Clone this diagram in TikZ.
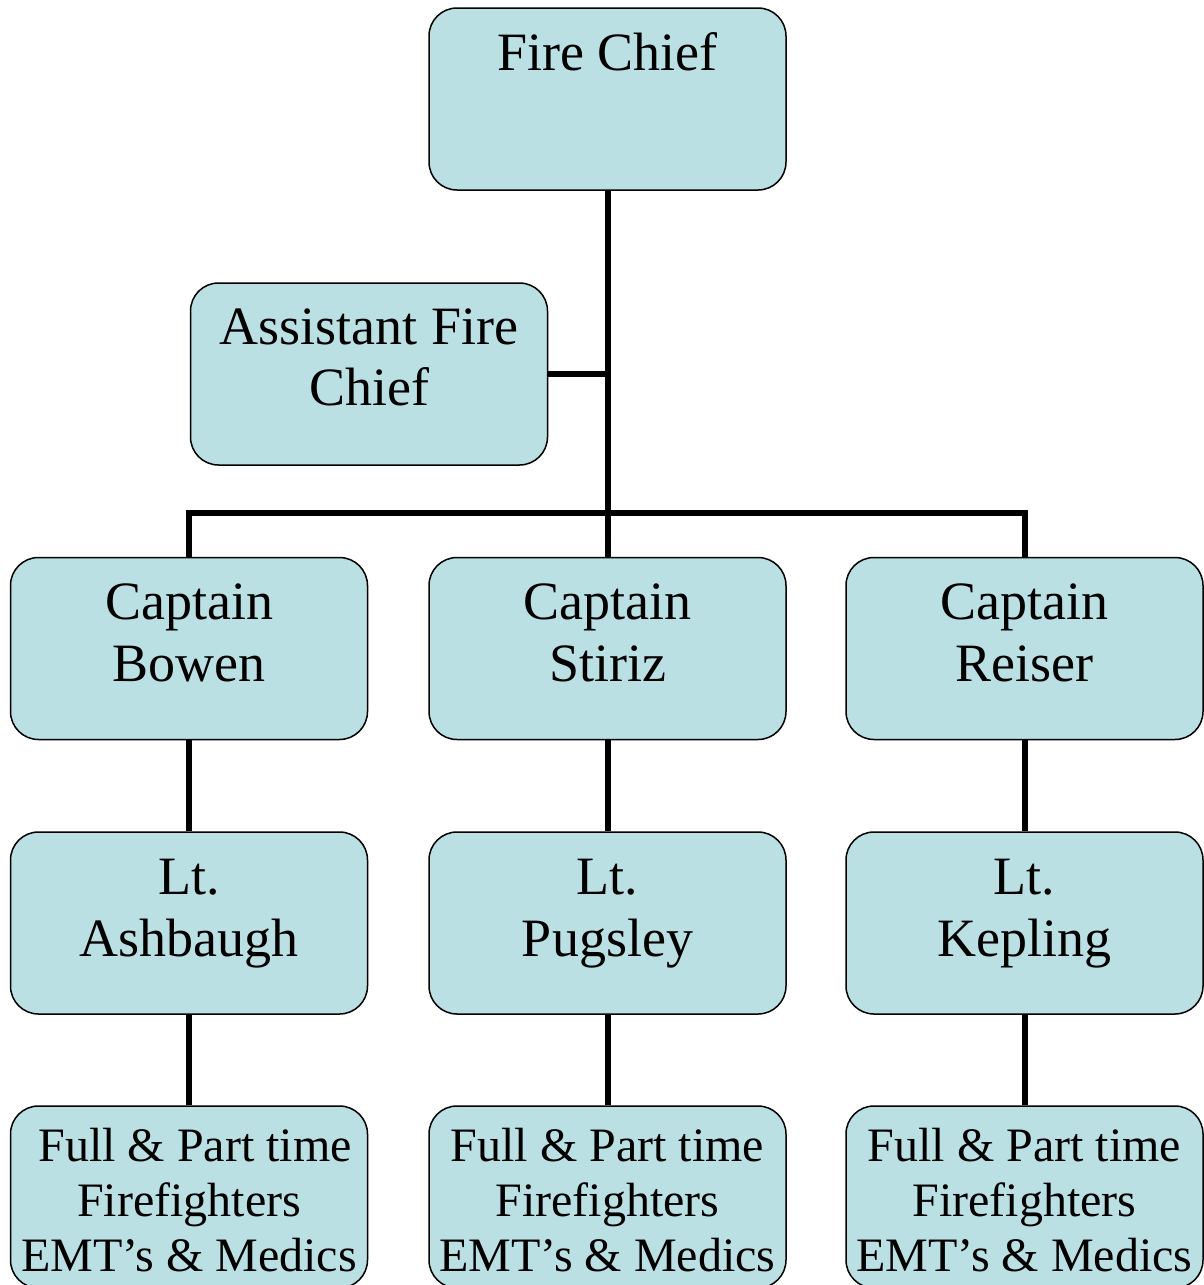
\documentclass[tikz,border=0pt]{standalone}
\usepackage{fontspec}
\setmainfont{Liberation Serif}
\definecolor{boxFill}{RGB}{186,224,227}
\newcommand{\boxText}[3]{\parbox[c][182pt][t]{357pt}{\centering\fontsize{#1}{#2}\selectfont\rule{0pt}{#2pt}#3}}

\begin{document}
\begin{tikzpicture}
[x=1pt,y=-1pt,
  boxDecorate/.style={draw,fill=boxFill,line width=1.5pt,rounded corners=28pt,inner sep=0pt},%
  lineDecorate/.style={-,line width=6pt}]
\useasboundingbox (0,0) rectangle (1203,1285);
%% boxes
\node (chief) at (607.5,99) [boxDecorate] {\boxText{54}{62}{Fire Chief}};
\node (asst) at (369,374) [boxDecorate] {\boxText{54}{61}{Assistant Fire\\Chief}};
\foreach \col/\x/\cptname/\ltname/\pad in {
  A/189/Bowen/Ashbaugh/12, B/607.5/Stiriz/Pugsley/0, C/1024.5/Reiser/Kepling/0}
{
  \node (cpt\col) at (\x,648.5) [boxDecorate] {\boxText{54}{62}{Captain\\\cptname}};
  \node (lt\col) at (\x,923) [boxDecorate] {\boxText{54}{62}{Lt.\\\ltname}};
  \node (crew\col) at (\x,1197) [boxDecorate]
    {\boxText{48}{55}{\hspace*{\pad pt}Full \& Part time\\Firefighters\\EMT’s \& Medics}};
}
%% connectors
\coordinate (bar) at (607.5,513);
\draw[lineDecorate] (chief.south) -- (cptB.north);
\draw[lineDecorate] (asst.east) -- (asst.east -| chief.south);
\draw[lineDecorate] (cptA.north) |- (bar) -| (cptC.north);
\path
\foreach \startnode/\endnode in {cptA/ltA, cptB/ltB, cptC/ltC, ltA/crewA, ltB/crewB, ltC/crewC}
{
  (\startnode.south) edge[lineDecorate] (\endnode.north)
};
\end{tikzpicture}
\end{document}
